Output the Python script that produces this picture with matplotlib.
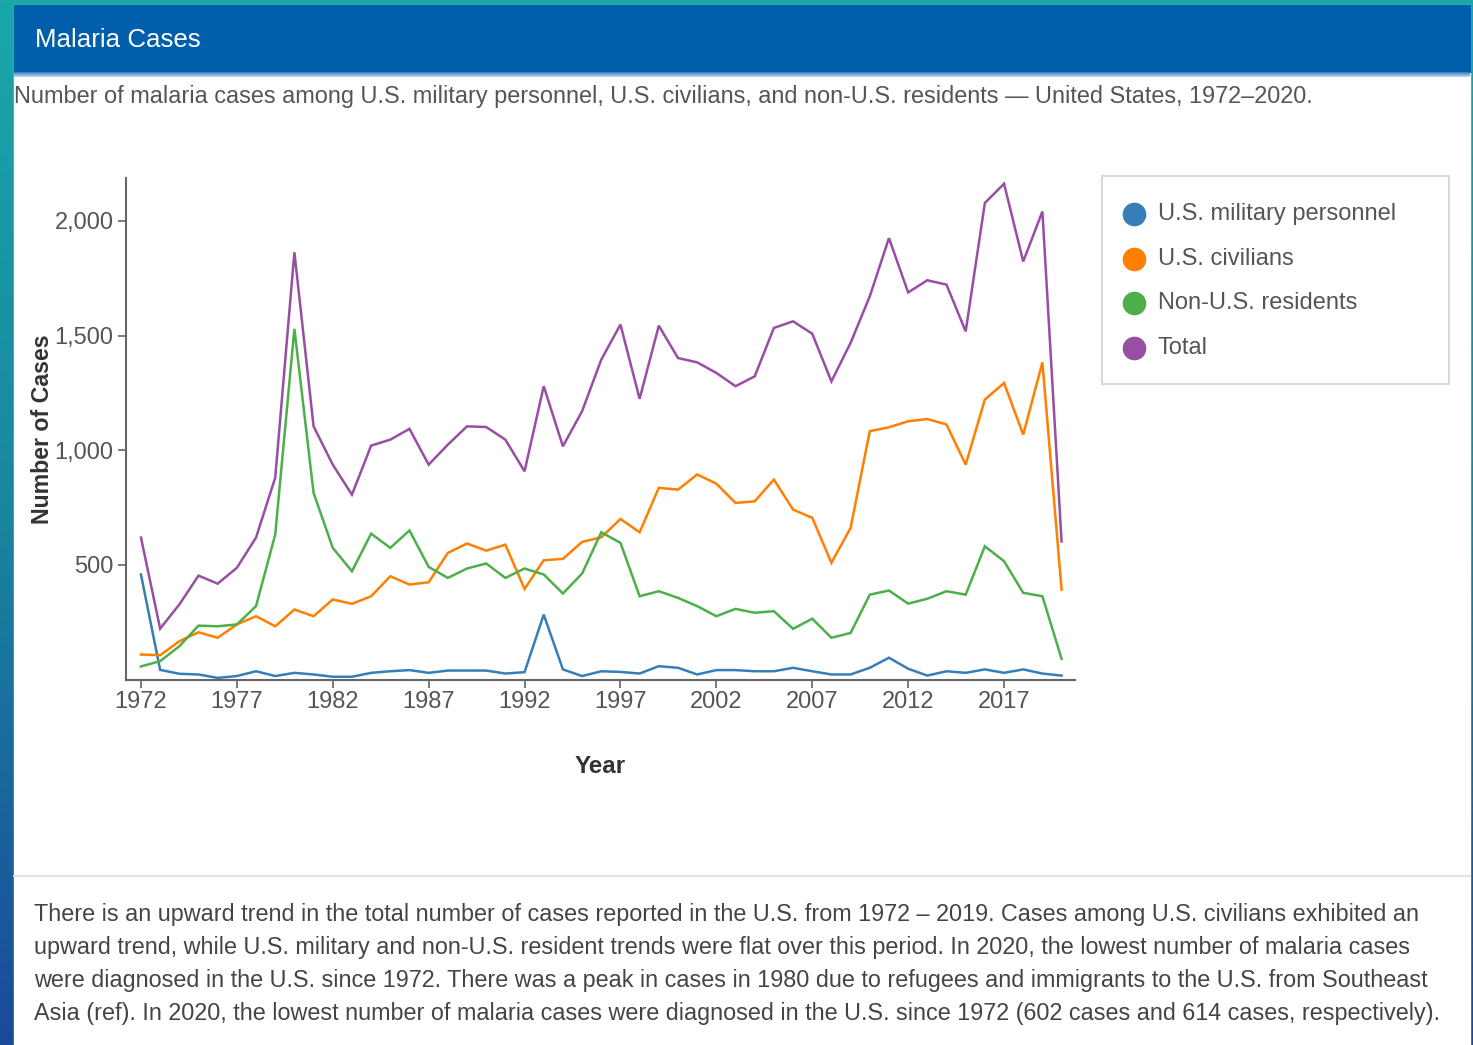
import numpy as np
import matplotlib
matplotlib.use("Agg")
import matplotlib.pyplot as plt
from matplotlib.colors import LinearSegmentedColormap
from matplotlib.patches import Rectangle
from matplotlib.lines import Line2D
from matplotlib.ticker import FuncFormatter

plt.rcParams['font.family'] = ['Liberation Sans', 'DejaVu Sans']

# malaria cases by year and group
years = list(range(1972, 2021))
military = [458, 42, 25, 22, 7, 15, 36, 15, 29, 22,
            12, 12, 29, 36, 41, 29, 39, 39, 39, 26,
            32, 283, 44, 15, 36, 33, 26, 58, 51, 22,
            41, 41, 36, 36, 51, 36, 22, 22, 51, 95,
            47, 17, 36, 29, 44, 29, 44, 26, 17]
civilians = [109, 106, 167, 206, 182, 240, 276, 232, 305, 276,
             349, 330, 363, 450, 414, 424, 552, 593, 562, 588,
             395, 520, 526, 600, 620, 700, 642, 836, 828, 894,
             854, 770, 777, 872, 741, 705, 509, 661, 1083, 1100,
             1126, 1136, 1112, 937, 1221, 1293, 1068, 1383, 392]
non_residents = [57, 80, 145, 235, 232, 240, 320, 632, 1529, 814,
                 574, 472, 636, 574, 650, 491, 443, 484, 506, 443,
                 484, 458, 375, 462, 642, 596, 363, 385, 356, 320,
                 276, 308, 291, 298, 221, 265, 182, 203, 370, 388,
                 331, 352, 385, 370, 581, 516, 378, 363, 90]
total = [619, 222, 327, 453, 418, 487, 619, 880, 1863, 1104,
         937, 806, 1020, 1046, 1093, 937, 1024, 1104, 1101, 1046,
         908, 1279, 1017, 1170, 1395, 1548, 1224, 1543, 1402, 1383,
         1337, 1279, 1322, 1533, 1562, 1508, 1300, 1468, 1671, 1925,
         1688, 1741, 1722, 1518, 2078, 2162, 1823, 2041, 602]

labels = ["U.S. military personnel", "U.S. civilians", "Non-U.S. residents", "Total"]
colors = ["#377eb8", "#ff7f00", "#4daf4a", "#984ea3"]

footer = [
    "There is an upward trend in the total number of cases reported in the U.S. from 1972 \u2013 2019. Cases among U.S. civilians exhibited an",
    "upward trend, while U.S. military and non-U.S. resident trends were flat over this period. In 2020, the lowest number of malaria cases",
    "were diagnosed in the U.S. since 1972. There was a peak in cases in 1980 due to refugees and immigrants to the U.S. from Southeast",
    "Asia (ref). In 2020, the lowest number of malaria cases were diagnosed in the U.S. since 1972 (602 cases and 614 cases, respectively).",
]

W, H = 1473, 1045
fig = plt.figure(figsize=(W / 100, H / 100), dpi=100)


def fx(px):
    return px / W


def fy(py):
    return 1 - py / H


# page backdrop: teal to dark blue
bg = fig.add_axes([0, 0, 1, 1], zorder=-10)
bg.set_xlim(0, 1)
bg.set_ylim(0, 1)
bg.axis('off')
cmap = LinearSegmentedColormap.from_list('page', ['#1aa7a9', '#1885a0', '#1a4a9a'])
bg.imshow(np.linspace(0, 1, 256).reshape(-1, 1), cmap=cmap, aspect='auto',
          extent=[0, 1, 0, 1])

# white card with header band
bg.add_patch(Rectangle((fx(14), 0), fx(1470) - fx(14), fy(5), color='white', zorder=2))
bg.add_patch(Rectangle((fx(14), fy(72)), fx(1470) - fx(14), fy(5) - fy(72),
                       color='#005eaa', zorder=3))
strip = LinearSegmentedColormap.from_list('strip', ['#2f7fc2', '#bcdcf2'])
bg.imshow(np.linspace(0, 1, 16).reshape(-1, 1), cmap=strip, aspect='auto',
          extent=[fx(14), fx(1470), fy(77), fy(72)], zorder=3)
bg.plot([fx(14), fx(1470)], [fy(876), fy(876)], color='#e2e2e2', lw=1.5, zorder=3)

fig.text(fx(35), fy(40), "Malaria Cases", color='white', fontsize=18.6, va='center')
fig.text(fx(14), fy(96),
         "Number of malaria cases among U.S. military personnel, U.S. civilians, "
         "and non-U.S. residents \u2014 United States, 1972\u20132020.",
         color='#555555', fontsize=16.9, va='center')

# line chart
ax = fig.add_axes([fx(126), fy(679.5), fx(1075) - fx(126), fy(178) - fy(679.5)])
for series, lab, col in zip([military, civilians, non_residents, total], labels, colors):
    ax.plot(years, series, color=col, lw=1.8, label=lab, solid_joinstyle='miter')

ax.set_xlim(1971.22, 2020.7)
ax.set_ylim(0, 2187)
ax.set_xticks(range(1972, 2020, 5))
ax.set_yticks([500, 1000, 1500, 2000])
ax.yaxis.set_major_formatter(FuncFormatter(lambda v, p: f"{int(v):,}"))
for side in ['top', 'right']:
    ax.spines[side].set_visible(False)
for side in ['left', 'bottom']:
    ax.spines[side].set_color('#666666')
    ax.spines[side].set_linewidth(1.5)
ax.tick_params(length=6, width=1.2, color='#666666', labelsize=17, labelcolor='#555555')
ax.tick_params(axis='y', pad=3)
ax.tick_params(axis='x', pad=2)

ax.set_xlabel("Year", fontsize=17.4, fontweight='bold', color='#333333', va='center')
ax.xaxis.set_label_coords(0.5, -0.1725)
ax.set_ylabel("Number of Cases", fontsize=16.7, fontweight='bold', color='#333333', va='center')
ax.yaxis.set_label_coords(-0.0885, 0.5)

# legend box
bg.add_patch(Rectangle((fx(1102), fy(384)), fx(1449) - fx(1102), fy(176) - fy(384),
                       facecolor='white', edgecolor='#d9d9d9', lw=1.5, zorder=4))
for i, (lab, col) in enumerate(zip(labels, colors)):
    yy = fy(214 + i * 44.7)
    bg.add_line(Line2D([fx(1134)], [yy], marker='o', markersize=16, color=col,
                       markeredgecolor=col, zorder=5))
    fig.text(fx(1158), yy, lab, color='#555555', fontsize=17, va='center')

# notes under the chart
for i, line in enumerate(footer):
    fig.text(fx(34), fy(915 + i * 32.7), line, color='#444444', fontsize=16.85, va='center')

fig.savefig("out.png", dpi=100)
